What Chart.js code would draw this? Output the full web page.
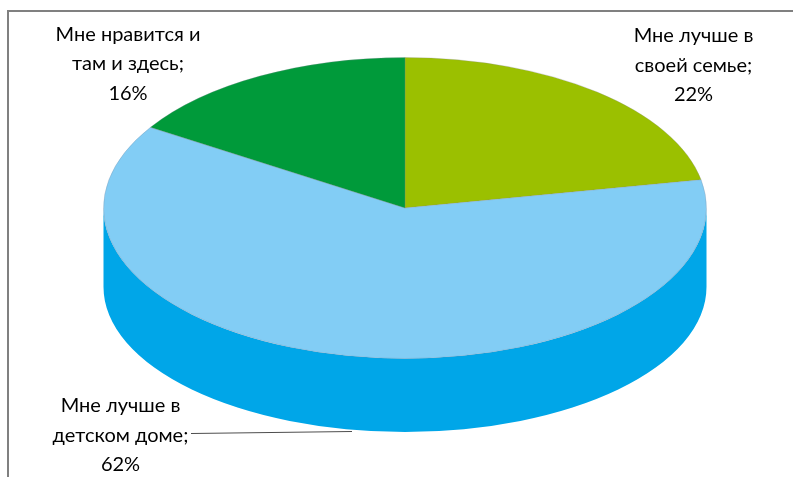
<!DOCTYPE html>
<html>
<head>
<meta charset="utf-8">
<style>
  body { margin: 0; background: #fff; }
  canvas { display: block; }
</style>
</head>
<body>
<canvas id="pie" width="793" height="477"></canvas>
<script src="https://cdn.jsdelivr.net/npm/chart.js@4"></script>
<script>
const categories = ['Мне лучше в своей семье', 'Мне лучше в детском доме', 'Мне нравится и там и здесь'];
const shares = [22, 62, 16];
const labelLines = [
    ['Мне лучше в', 'своей семье;'],
    ['Мне лучше в', 'детском доме;'],
    ['Мне нравится и', 'там и здесь;'],
];
const topColors = ['#9bc000', '#82cdf5', '#009a3a'];
const sideColors = ['#7c9a00', '#00a6e8', '#007b2e'];

// 3D look: squash the circle, then extrude the front half
const SQUASH = 150.5 / 301.5;
const BOTTOM_CY = 287;
const BOTTOM_RY = 145;

// centre x of each label block, and y of its first line
const labelPos = [
    { x: 693.5, y: 36 },
    { x: 120.5, y: 406 },
    { x: 128, y: 34.5 },
];
const LINE_H = 29.3;

const frame = {
    id: 'frame',
    beforeDraw(chart) {
        const ctx = chart.ctx;
        ctx.save();
        ctx.strokeStyle = '#808080';
        ctx.lineWidth = 2;
        ctx.beginPath();
        ctx.moveTo(8, 477);
        ctx.lineTo(8, 11);
        ctx.lineTo(793, 11);
        ctx.stroke();
        ctx.restore();
    },
};

const pie3d = {
    id: 'pie3d',
    beforeDatasetDraw(chart) {
        const ctx = chart.ctx;
        const arcs = chart.getDatasetMeta(0).data;

        // side wall, only the part of each slice facing the viewer
        arcs.forEach((arc, i) => {
            const start = Math.max(arc.startAngle, 0);
            const end = Math.min(arc.endAngle, Math.PI);
            if (end <= start) return;
            const ry = arc.outerRadius * SQUASH;
            ctx.fillStyle = sideColors[i];
            ctx.beginPath();
            ctx.ellipse(arc.x, arc.y, arc.outerRadius, ry, 0, start, end);
            ctx.ellipse(arc.x, BOTTOM_CY, arc.outerRadius, BOTTOM_RY, 0, end, start, true);
            ctx.closePath();
            ctx.fill();
        });

        const cy = arcs[0].y;
        ctx.save();
        ctx.translate(0, cy);
        ctx.scale(1, SQUASH);
        ctx.translate(0, -cy);
    },
    afterDatasetDraw(chart) {
        chart.ctx.restore();
    },
    afterDraw(chart) {
        const ctx = chart.ctx;
        ctx.save();

        // leader line of the big slice
        ctx.strokeStyle = '#4d4d4d';
        ctx.lineWidth = 1;
        ctx.beginPath();
        ctx.moveTo(191, 433.5);
        ctx.lineTo(352, 431.5);
        ctx.stroke();

        ctx.fillStyle = '#000';
        ctx.font = '20px Lato, "Open Sans", sans-serif';
        ctx.textAlign = 'center';
        ctx.textBaseline = 'middle';
        labelLines.forEach((lines, i) => {
            const p = labelPos[i];
            lines.concat(shares[i] + '%').forEach((line, k) => {
                ctx.fillText(line, p.x, p.y + k * LINE_H);
            });
        });
        ctx.restore();
    },
};

new Chart(document.getElementById('pie'), {
    type: 'pie',
    data: {
        labels: categories,
        datasets: [{
            data: shares,
            backgroundColor: topColors,
            borderColor: 'rgba(130, 130, 150, 0.35)',
            borderWidth: 1,
            clip: false,
        }],
    },
    options: {
        responsive: false,
        animation: false,
        radius: 301.5,
        layout: { padding: { left: 17, bottom: 61 } },
        plugins: {
            legend: { display: false },
            tooltip: { enabled: false },
        },
    },
    plugins: [frame, pie3d],
});
</script>
</body>
</html>
